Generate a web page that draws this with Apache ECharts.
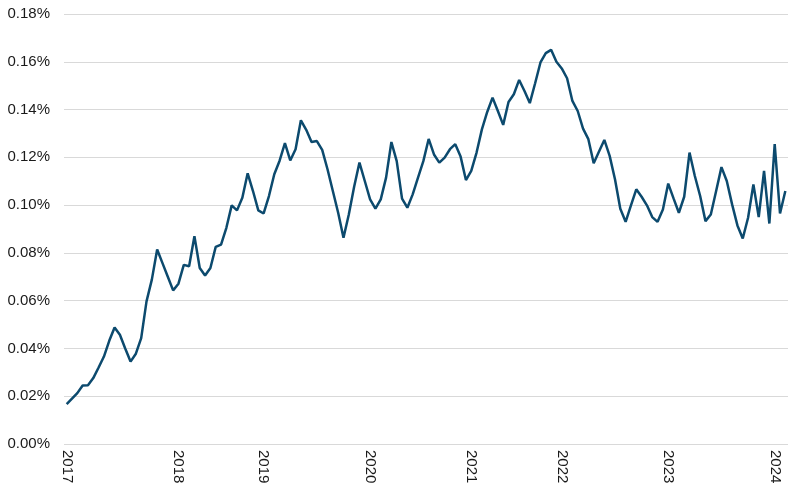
<!DOCTYPE html>
<html>
<head>
<meta charset="utf-8">
<script src="https://cdn.jsdelivr.net/npm/echarts@6/dist/echarts.min.js"></script>
<style>
html,body{margin:0;padding:0;background:#fff;}
#chart{width:800px;height:491px;}
</style>
</head>
<body>
<div id="chart"></div>
<script>
// Year tick labels and number of observations per year (irregular sampling)
const yearLabels = ['2017','2018','2019','2020','2021','2022','2023','2024'];
const pointsPerYear = [21,16,20,19,17,20,20,3];

// Series values in percent
const values = [
  0.0167,0.0190,0.0213,0.0245,0.0246,0.0276,0.0320,0.0366,0.0432,0.0488,
  0.0457,0.0400,0.0345,0.0378,0.0443,0.0597,0.0688,0.0814,0.0757,0.0700,
  0.0643,0.0671,0.0750,0.0744,0.0870,0.0737,0.0705,0.0737,0.0825,0.0835,
  0.0905,0.0999,0.0978,0.1031,0.1133,0.1059,0.0978,0.0965,0.1038,0.1129,
  0.1186,0.1259,0.1187,0.1234,0.1355,0.1315,0.1264,0.1268,0.1231,0.1150,
  0.1059,0.0968,0.0863,0.0961,0.1077,0.1178,0.1101,0.1024,0.0985,0.1024,
  0.1115,0.1264,0.1184,0.1027,0.0989,0.1045,0.1115,0.1184,0.1277,0.1212,
  0.1178,0.1199,0.1234,0.1255,0.1203,0.1105,0.1143,0.1220,0.1317,0.1390,
  0.1450,0.1394,0.1336,0.1432,0.1464,0.1524,0.1478,0.1427,0.1510,0.1597,
  0.1636,0.1650,0.1600,0.1572,0.1531,0.1436,0.1394,0.1320,0.1276,0.1175,
  0.1224,0.1273,0.1206,0.1108,0.0985,0.0930,0.0999,0.1066,0.1035,0.0999,
  0.0950,0.0930,0.0982,0.1090,0.1028,0.0968,0.1035,0.1220,0.1122,0.1038,
  0.0933,0.0961,0.1059,0.1159,0.1101,0.1003,0.0915,0.0860,0.0947,0.1087,
  0.0950,0.1143,0.0923,0.1255,0.0965,0.1059
];

const yTicks = {min:0, max:0.18, interval:0.02};

// Build category list: one entry per observation, year label on its first one
const categories = [];
const labelAt = {};
yearLabels.forEach((y, i) => {
  for (let k = 1; k <= pointsPerYear[i]; k++) {
    const c = y + '-' + k;
    if (k === 1) labelAt[categories.length] = y;
    categories.push(c);
  }
});

const chart = echarts.init(document.getElementById('chart'), null, {renderer:'canvas'});
chart.setOption({
  animation:false,
  backgroundColor:'#ffffff',
  grid:{left:64, right:12, top:14, bottom:47, containLabel:false},
  xAxis:{
    type:'category',
    data:categories,
    boundaryGap:true,
    axisLine:{show:false},
    axisTick:{show:false},
    splitLine:{show:false},
    axisLabel:{
      interval:0,
      rotate:-90,
      margin:6,
      color:'#1a1a1a',
      fontFamily:'Liberation Sans, Arial, sans-serif',
      fontSize:15,
      formatter:(v, idx) => (labelAt[idx] !== undefined ? labelAt[idx] : '')
    }
  },
  yAxis:{
    type:'value',
    min:yTicks.min, max:yTicks.max, interval:yTicks.interval,
    axisLine:{show:false},
    axisTick:{show:false},
    splitLine:{show:true, lineStyle:{color:'#d9d9d9', width:1}},
    axisLabel:{
      margin:14,
      color:'#1a1a1a',
      fontFamily:'Liberation Sans, Arial, sans-serif',
      fontSize:15,
      formatter:v => v.toFixed(2) + '%'
    }
  },
  series:[{
    type:'line',
    data:values,
    showSymbol:false,
    symbol:'none',
    lineStyle:{color:'#0c4a6e', width:2.5},
    itemStyle:{color:'#0c4a6e'}
  }]
});
</script>
</body>
</html>
